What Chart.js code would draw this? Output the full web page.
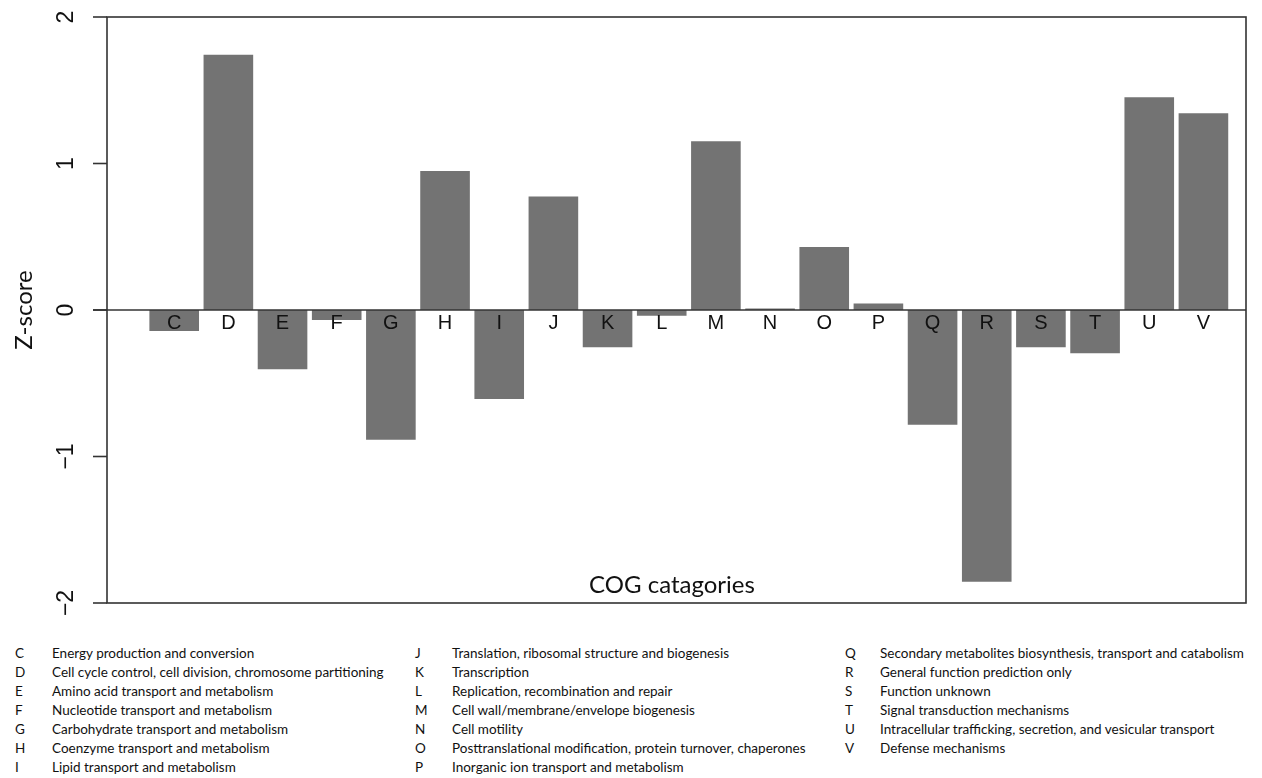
<!DOCTYPE html>
<html>
<head>
<meta charset="utf-8">
<script src="https://cdn.jsdelivr.net/npm/chart.js@4.4.1/dist/chart.umd.min.js"></script>
<style>
body { margin:0; background:#fff; }
#wrap { position:relative; width:1262px; height:778px; }
#legend { position:absolute; left:0; top:0; font-family:Lato, "Noto Sans", sans-serif; font-size:13.5px; color:#111; }
.row { position:absolute; white-space:nowrap; }
.row span { position:absolute; }
</style>
</head>
<body>
<div id="wrap">
<canvas id="cogChart" width="1262" height="640"></canvas>
<div id="legend"></div>
</div>
<script>

// COG CATEGORIES AND Z-SCORES

const categories = ["C","D","E","F","G","H","I","J","K","L","M","N","O","P","Q","R","S","T","U","V"];

const zScores = [-0.143, 1.743, -0.405, -0.068, -0.886, 0.948, -0.607, 0.775, -0.255, -0.039,
                 1.152, 0.011, 0.430, 0.045, -0.784, -1.855, -0.255, -0.295, 1.452, 1.343];

const yTicks = [-2, -1, 0, 1, 2];

const descriptions = [
"Energy production and conversion",
"Cell cycle control, cell division, chromosome partitioning",
"Amino acid transport and metabolism",
"Nucleotide transport and metabolism",
"Carbohydrate transport and metabolism",
"Coenzyme transport and metabolism",
"Lipid transport and metabolism",
"Translation, ribosomal structure and biogenesis",
"Transcription",
"Replication, recombination and repair",
"Cell wall/membrane/envelope biogenesis",
"Cell motility",
"Posttranslational modification, protein turnover, chaperones",
"Inorganic ion transport and metabolism",
"Secondary metabolites biosynthesis, transport and catabolism",
"General function prediction only",
"Function unknown",
"Signal transduction mechanisms",
"Intracellular trafficking, secretion, and vesicular transport",
"Defense mechanisms"
];


// AXES, LETTERS AND FRAME (R style)

const rFrame = {
id:"rFrame",
afterDatasetsDraw(chart){
const {ctx, chartArea:a, scales:{x, y}} = chart;
ctx.save();
ctx.strokeStyle = "#333";
ctx.lineWidth = 1.6;
ctx.strokeRect(a.left, a.top, a.right - a.left, a.bottom - a.top);

// zero line
ctx.beginPath();
ctx.moveTo(a.left - 14, y.getPixelForValue(0));
ctx.lineTo(a.right, y.getPixelForValue(0));
ctx.stroke();

// y ticks, labels turned like R las=0
ctx.fillStyle = "#111";
ctx.font = "23px 'Liberation Sans', Arial, sans-serif";
ctx.textAlign = "center";
ctx.textBaseline = "middle";
yTicks.forEach(t => {
const py = y.getPixelForValue(t);
ctx.beginPath();
ctx.moveTo(a.left - 14, py);
ctx.lineTo(a.left, py);
ctx.stroke();
ctx.save();
ctx.translate(a.left - 40, py);
ctx.rotate(-Math.PI / 2);
ctx.fillText(t < 0 ? "\u2212" + Math.abs(t) : String(t), 0, 0);
ctx.restore();
});

// category letters under the zero line
ctx.font = "20px 'Liberation Sans', Arial, sans-serif";
categories.forEach((c, i) => {
ctx.fillText(c, x.getPixelForValue(i), y.getPixelForValue(-0.09));
});

// axis titles
ctx.font = "24px Lato, 'Noto Sans', sans-serif";
ctx.save();
ctx.translate(24, y.getPixelForValue(0));
ctx.rotate(-Math.PI / 2);
ctx.fillText("Z-score", 0, 0);
ctx.restore();
ctx.textBaseline = "alphabetic";
ctx.fillText("COG catagories", 672, a.bottom - 10);
ctx.restore();
}
};


// BAR CHART

new Chart(

document.getElementById("cogChart"),

{

type:"bar",

data:{

datasets:[{

label:"Z-score",

data:categories.map((c, i) => ({x:i, y:zScores[i]})),

backgroundColor:"#737373",

barPercentage:0.916,

categoryPercentage:1

}]

},

options:{

responsive:false,
animation:false,
layout:{padding:{left:107, right:16, top:17, bottom:37}},
plugins:{legend:{display:false}, tooltip:{enabled:false}},
scales:{
x:{type:"linear", min:-1.2405, max:19.786, offset:false, display:false},
y:{min:-2, max:2, display:false}
}

},

plugins:[rFrame]

});


// CATEGORY LEGEND (three columns)

const legend = document.getElementById("legend");
const colX = [[15, 52], [415, 452], [845, 880]];

categories.forEach((c, i) => {
const col = Math.floor(i / 7);
const row = i % 7;
const div = document.createElement("div");
div.className = "row";
div.style.top = (645 + row * 19) + "px";
div.innerHTML = '<span style="left:' + colX[col][0] + 'px">' + c + '</span>' +
'<span style="left:' + colX[col][1] + 'px">' + descriptions[i] + '</span>';
legend.appendChild(div);
});

</script>
</body>
</html>
